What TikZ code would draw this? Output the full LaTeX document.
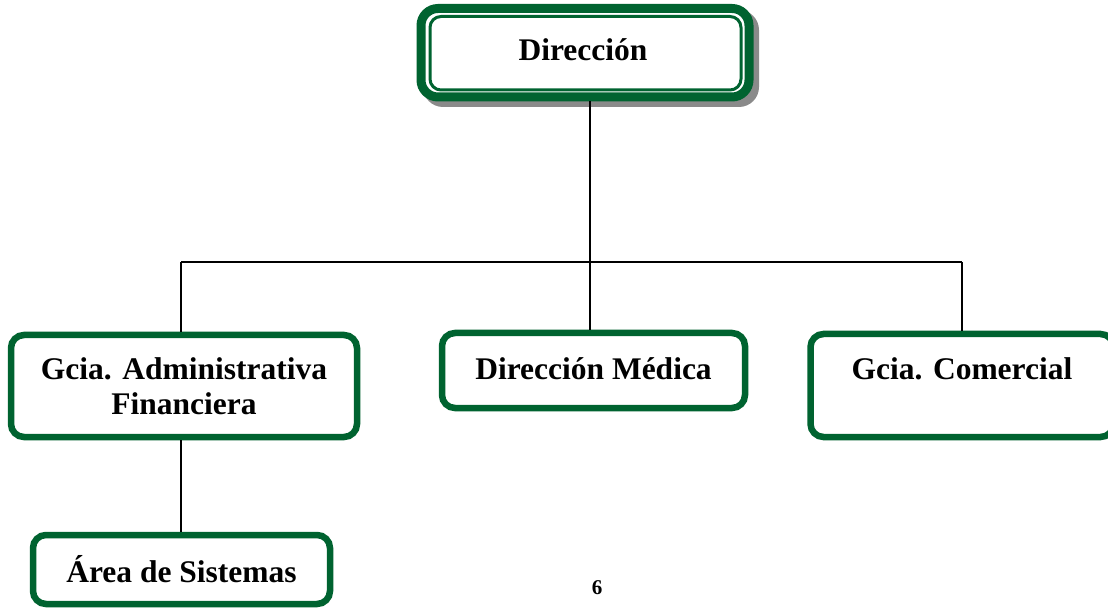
\documentclass[tikz,border=0pt]{standalone}
\usepackage{fontspec}
\setmainfont{Liberation Serif}
\definecolor{orggreen}{HTML}{006330}
\definecolor{shadowgray}{HTML}{8A8A8A}
\tikzset{
  unitbox/.style={draw=orggreen, line width=6.5pt, rounded corners=13pt, fill=white,
    align=center, inner sep=0pt, font=\bfseries\fontsize{31.5}{35}\selectfont},
  link/.style={draw=black, line width=1.6pt},
}
\begin{document}
\begin{tikzpicture}[x=1pt, y=-1pt]
  \clip (0,0) rectangle (1108,609);
  \fill[white] (0,0) rectangle (1108,609);

  % top box: shadow, thick outer frame, thin inner frame
  \fill[shadowgray, rounded corners=20pt] (423,10) rectangle (759,107);
  \node[unitbox, line width=9pt, rounded corners=17pt, minimum width=328pt, minimum height=88.5pt]
    (dir) at (585,52.75) {};
  \draw[orggreen, line width=3pt, rounded corners=11pt] (430,16.5) rectangle (741,90);
  \node[font=\bfseries\fontsize{31.5}{35}\selectfont] (dirtxt) at (583,50) {Dirección};

  % second level
  \node[unitbox, minimum width=346pt, minimum height=102pt] (gaf) at (184,386) {Gcia. Administrativa\\Financiera};
  \node[unitbox, minimum width=303pt, minimum height=75pt] (dm) at (593.5,370.5) {\raisebox{3pt}{Dirección Médica}};
  \node[unitbox, minimum width=303pt, minimum height=103pt] (gc) at (962,385.5) {Gcia. Comercial\\[-2pt]\mbox{}};

  % third level
  \node[unitbox, minimum width=297pt, minimum height=69pt] (as) at (181.5,569.5) {Área de Sistemas};

  % connectors
  \coordinate (hub) at (590,262);
  \coordinate (busl) at (181,262);
  \coordinate (busr) at (962,262);
  \draw[link] (dir.south -| hub) -- (hub);
  \draw[link] (busl) -- (busr);
  \draw[link] (busl) -- (busl |- gaf.north);
  \draw[link] (hub) -- (hub |- dm.north);
  \draw[link] (busr) -- (busr |- gc.north);
  \draw[link] (gaf.south -| busl) -- (busl |- as.north);

  % page number
  \node[font=\bfseries\fontsize{21}{24}\selectfont] (pg) at (597,588) {6};
\end{tikzpicture}
\end{document}
